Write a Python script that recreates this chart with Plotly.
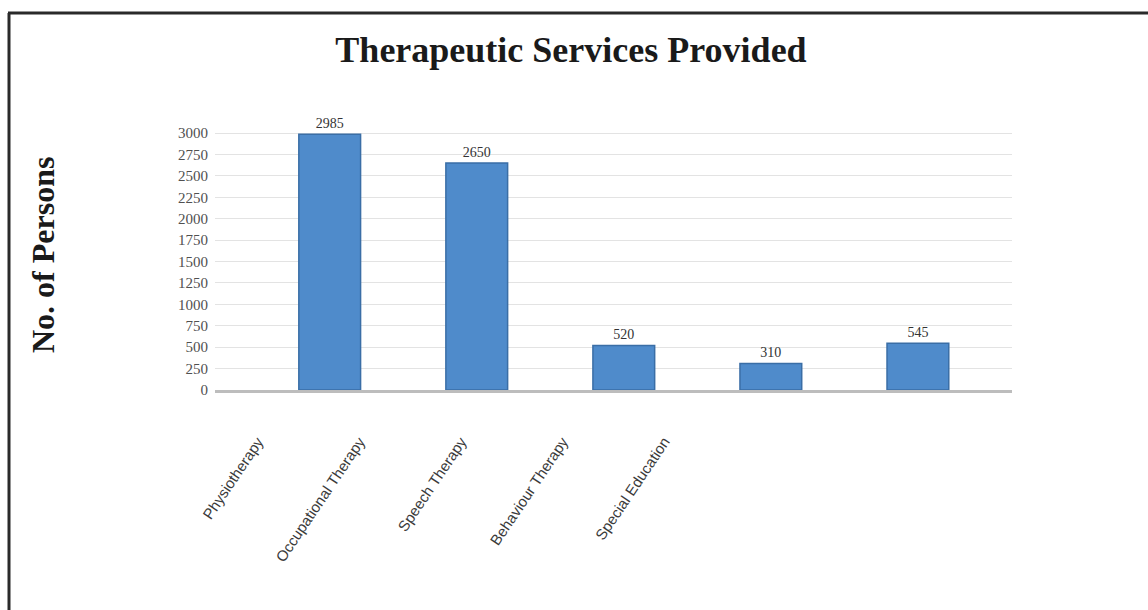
import plotly.graph_objects as go

categories = ["Physiotherapy", "Occupational Therapy", "Speech Therapy",
              "Behaviour Therapy", "Special Education"]
persons = [2985, 2650, 520, 310, 545]
y_ticks = list(range(0, 3001, 250))

W, H = 1148, 610
L, R, T, B = 200, 136, 95, 220
pw, ph = W - L - R, H - T - B

def px_x(x):
    return (x - L) / pw

def px_y(y):
    return (H - B - y) / ph

fig = go.Figure()
fig.add_trace(go.Bar(
    x=categories, y=persons,
    width=0.42,
    marker=dict(color="#4f8bcb", line=dict(color="#3a6ea6", width=1.5)),
    text=[str(v) for v in persons], textposition="outside",
    textfont=dict(family="Liberation Serif", size=14, color="#333333"),
    cliponaxis=False, showlegend=False, hoverinfo="x+y",
))
fig.add_trace(go.Scatter(
    x=categories, y=persons, xaxis="x2", yaxis="y2",
    mode="markers", marker=dict(opacity=0), showlegend=False, hoverinfo="skip",
))

fig.update_layout(
    width=W, height=H,
    margin=dict(l=L, r=R, t=T, b=B),
    paper_bgcolor="white", plot_bgcolor="rgba(0,0,0,0)",
    title=dict(text="<b>Therapeutic Services Provided</b>",
               font=dict(family="Liberation Serif", size=36, color="#1a1a1a"),
               x=571 / W, xref="container", xanchor="center",
               y=1 - 49 / H, yref="container", yanchor="middle"),
    xaxis=dict(type="category", categoryarray=categories,
               domain=[px_x(215), 1],
               range=[-0.78, 4.64], showticklabels=False, showgrid=False,
               showline=True, linecolor="#bdbdbd", linewidth=3, ticks="",
               zeroline=False),
    xaxis2=dict(type="category", categoryarray=categories, anchor="y2",
                domain=[px_x(207), px_x(715)], range=[-0.5, 4.5],
                showgrid=False, showline=False, ticks="", tickangle=-56,
                ticklabelstandoff=39,
                tickfont=dict(family="Liberation Sans", size=15, color="#3a3a3a")),
    yaxis=dict(range=[0, 3444], tickvals=y_ticks, showgrid=True,
               gridcolor="#e3e3e3", gridwidth=1, zeroline=False,
               showline=False, ticks="", ticklabelstandoff=6,
               tickfont=dict(family="Liberation Serif", size=15, color="#505050")),
    yaxis2=dict(anchor="x2", domain=[0, 1], range=[0, 3444], visible=False,
                showgrid=False, zeroline=False),
)

fig.add_annotation(text="<b>No. of Persons</b>", textangle=-90,
                   xref="paper", yref="paper", x=px_x(43), y=px_y(255),
                   showarrow=False, xanchor="center", yanchor="middle",
                   font=dict(family="Liberation Serif", size=32, color="#1a1a1a"))

fig.add_shape(type="line", xref="paper", yref="paper",
              x0=px_x(8), x1=px_x(1148), y0=px_y(13), y1=px_y(13),
              line=dict(color="#2a2a2a", width=3), layer="below")
fig.add_shape(type="line", xref="paper", yref="paper",
              x0=px_x(9), x1=px_x(9), y0=px_y(13), y1=px_y(610),
              line=dict(color="#2a2a2a", width=3), layer="below")

fig.write_html("out.html", config={"displayModeBar": False},
               post_script="document.body.style.margin='0';document.body.style.padding='0';")
